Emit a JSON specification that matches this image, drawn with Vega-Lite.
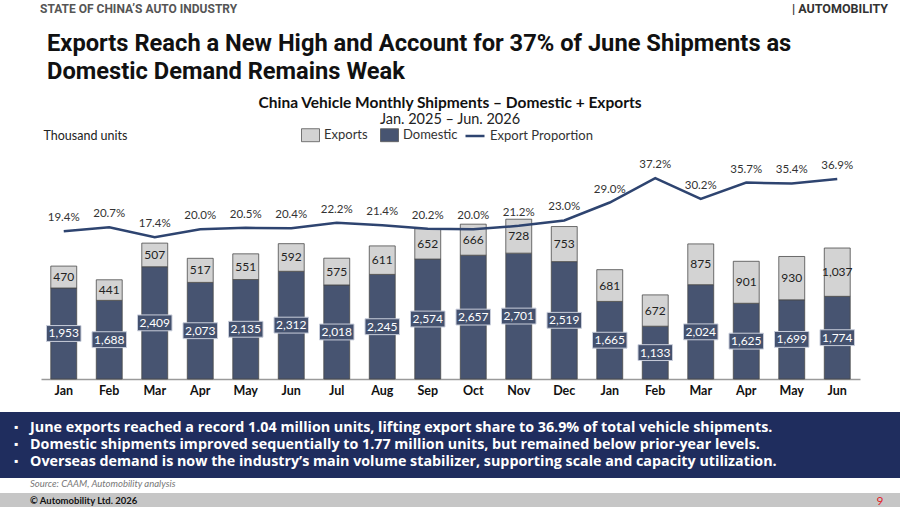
{
  "$schema": "https://vega.github.io/schema/vega-lite/v6.json",
  "padding": 0,
  "background": "white",
  "spacing": 0,
  "config": {"view": {"stroke": null}, "font": "Lato", "concat": {"spacing": 0}},
  "datasets": {
    "shipments": [
      {"date": "2025-01-01", "Domestic": 1953, "Exports": 470, "share": 0.194},
      {"date": "2025-02-01", "Domestic": 1688, "Exports": 441, "share": 0.207},
      {"date": "2025-03-01", "Domestic": 2409, "Exports": 507, "share": 0.174},
      {"date": "2025-04-01", "Domestic": 2073, "Exports": 517, "share": 0.200},
      {"date": "2025-05-01", "Domestic": 2135, "Exports": 551, "share": 0.205},
      {"date": "2025-06-01", "Domestic": 2312, "Exports": 592, "share": 0.204},
      {"date": "2025-07-01", "Domestic": 2018, "Exports": 575, "share": 0.222},
      {"date": "2025-08-01", "Domestic": 2245, "Exports": 611, "share": 0.214},
      {"date": "2025-09-01", "Domestic": 2574, "Exports": 652, "share": 0.202},
      {"date": "2025-10-01", "Domestic": 2657, "Exports": 666, "share": 0.200},
      {"date": "2025-11-01", "Domestic": 2701, "Exports": 728, "share": 0.212},
      {"date": "2025-12-01", "Domestic": 2519, "Exports": 753, "share": 0.230},
      {"date": "2026-01-01", "Domestic": 1665, "Exports": 681, "share": 0.290},
      {"date": "2026-02-01", "Domestic": 1133, "Exports": 672, "share": 0.372},
      {"date": "2026-03-01", "Domestic": 2024, "Exports": 875, "share": 0.302},
      {"date": "2026-04-01", "Domestic": 1625, "Exports": 901, "share": 0.357},
      {"date": "2026-05-01", "Domestic": 1699, "Exports": 930, "share": 0.354},
      {"date": "2026-06-01", "Domestic": 1774, "Exports": 1037, "share": 0.369}
    ],
    "bullets": [
      {"line": 1, "pos": 0, "text": "June exports reached a record 1.04 million units, lifting export share to 36.9% of total vehicle shipments."},
      {"line": 2, "pos": 0, "text": "Domestic shipments improved sequentially to 1.77 million units, but remained below prior-year levels."},
      {"line": 3, "pos": 0, "text": "Overseas demand is now the industry’s main volume stabilizer, supporting scale and capacity utilization."}
    ]
  },
  "vconcat": [
    {
      "width": 900,
      "height": 20,
      "layer": [
        {
          "data": {"values": [{"pos": 0, "label": "STATE OF CHINA’S AUTO INDUSTRY"}]},
          "mark": {"type": "text", "align": "left", "baseline": "middle", "fontSize": 12, "fontWeight": "bold", "color": "#555555", "dy": -1, "font": "Roboto"},
          "encoding": {
            "x": {"field": "pos", "type": "quantitative", "scale": {"domain": [0, 1], "range": [40, 868]},
                  "axis": {"orient": "bottom", "domainColor": "#d9262c", "domainWidth": 2, "ticks": false, "labels": false, "grid": false, "title": null}},
            "text": {"field": "label"}
          }
        },
        {
          "data": {"values": [{"pos": 1, "label": "|      AUTOMOBILITY"}]},
          "mark": {"type": "text", "align": "right", "baseline": "middle", "fontSize": 12.5, "fontWeight": "bold", "color": "#333333", "dy": -1, "dx": 20, "font": "Roboto"},
          "encoding": {
            "x": {"field": "pos", "type": "quantitative", "scale": {"domain": [0, 1], "range": [40, 868]}, "axis": null},
            "text": {"field": "label"}
          }
        }
      ]
    },
    {
      "width": 900,
      "height": 76,
      "data": {"values": [
        {"line": 1, "pos": 0, "text": "Exports Reach a New High and Account for 37% of June Shipments as"},
        {"line": 2, "pos": 0, "text": "Domestic Demand Remains Weak"}
      ]},
      "mark": {"type": "text", "align": "left", "baseline": "middle", "font": "Roboto", "fontSize": 23.7, "fontWeight": "bold", "color": "#111111"},
      "encoding": {
        "x": {"field": "pos", "type": "quantitative", "scale": {"domain": [0, 1], "range": [47, 868]}, "axis": null},
        "y": {"field": "line", "type": "ordinal", "scale": {"type": "point", "padding": 0.857}, "axis": null},
        "text": {"field": "text"}
      }
    },
    {
      "width": 900,
      "height": 217,
      "title": {
        "text": "China Vehicle Monthly Shipments – Domestic + Exports",
        "subtitle": "Jan. 2025 – Jun. 2026",
        "anchor": "middle",
        "frame": "group",
        "fontSize": 15.5,
        "fontWeight": "bold",
        "color": "#111111",
        "subtitleFontSize": 14.5,
        "subtitleColor": "#222222",
        "subtitlePadding": 1,
        "offset": 3
      },
      "data": {"name": "shipments"},
      "layer": [
        {
          "layer": [
            {
              "transform": [{"fold": ["Domestic", "Exports"], "as": ["series", "value"]}],
              "mark": {"type": "bar", "stroke": "#4a4a4a", "strokeWidth": 0.8},
              "encoding": {
                "x": {"field": "date", "timeUnit": "utcyearmonth", "type": "ordinal",
                      "scale": {"range": [41, 860], "paddingInner": 0.43, "paddingOuter": 0.215},
                      "axis": {"title": null, "labelExpr": "utcFormat(datum.value, '%b')", "labelFontWeight": "bold", "labelFontSize": 12.5, "labelColor": "#111111", "labelAngle": 0, "ticks": false, "domainColor": "#9a9a9a", "domainWidth": 1.5, "labelPadding": 5, "minExtent": 33}},
                "y": {"field": "value", "type": "quantitative", "stack": "zero", "scale": {"domain": [0, 4657]},
                      "axis": {"orient": "left", "domain": false, "ticks": false, "labels": false, "grid": false, "minExtent": 0,
                               "title": "Thousand units", "titleAngle": 0, "titleAlign": "left", "titleBaseline": "middle", "titleX": 43, "titleY": -27,
                               "titleFontWeight": "normal", "titleFontSize": 12.5, "titleColor": "#222222"}},
                "order": {"field": "series", "sort": "ascending"},
                "color": {"field": "series", "type": "nominal",
                          "scale": {"domain": ["Exports", "Domestic"], "range": ["#d3d3d3", "#475471"]},
                          "legend": {"title": null, "orient": "none", "legendX": 301, "legendY": 125.5, "direction": "horizontal",
                                     "symbolType": "M-1,-0.72H1V0.72H-1Z", "symbolSize": 324, "symbolStrokeColor": "#555555", "symbolStrokeWidth": 0.8,
                                     "labelFontSize": 13, "labelColor": "#333333", "columnPadding": 10, "labelOffset": 4}}
              }
            },
            {
              "transform": [
                {"fold": ["Domestic", "Exports"], "as": ["series", "value"]},
                {"stack": "value", "groupby": ["date"], "sort": [{"field": "series", "order": "ascending"}], "as": ["v0", "v1"]},
                {"fold": ["v0", "v1"], "as": ["edge", "edgeval"]},
                {"aggregate": [{"op": "mean", "field": "edgeval", "as": "mid"}], "groupby": ["date", "series", "value"]}
              ],
              "layer": [
                {
                  "transform": [{"filter": "datum.series === 'Domestic'"}],
                  "mark": {"type": "point", "shape": "M-1,-0.46H1V0.46H-1Z", "size": 1190, "filled": true, "fill": "#44516e", "stroke": "#c9cedb", "strokeWidth": 1, "opacity": 1},
                  "encoding": {
                    "x": {"field": "date", "timeUnit": "utcyearmonth", "type": "ordinal"},
                    "y": {"field": "mid", "type": "quantitative", "scale": {"domain": [0, 4657]}}
                  }
                },
                {
                  "mark": {"type": "text", "fontSize": 12, "baseline": "middle"},
                  "encoding": {
                    "x": {"field": "date", "timeUnit": "utcyearmonth", "type": "ordinal"},
                    "y": {"field": "mid", "type": "quantitative", "scale": {"domain": [0, 4657]}},
                    "text": {"field": "value", "type": "quantitative", "format": ","},
                    "color": {"condition": {"test": "datum.series === 'Domestic'", "value": "#ffffff"}, "value": "#222222"}
                  }
                }
              ]
            }
          ]
        },
        {
          "layer": [
            {
              "mark": {"type": "line", "strokeWidth": 2.5},
              "encoding": {
                "x": {"field": "date", "timeUnit": "utcyearmonth", "type": "ordinal"},
                "y": {"field": "share", "type": "quantitative", "scale": {"domain": [-0.302, 0.426]}, "axis": null},
                "stroke": {"datum": "Export Proportion", "type": "nominal",
                           "scale": {"domain": ["Export Proportion"], "range": ["#2e4470"]},
                           "legend": {"title": null, "orient": "none", "legendX": 464, "legendY": 125, "symbolType": "stroke",
                                      "symbolSize": 361, "symbolStrokeWidth": 2.5, "labelFontSize": 13, "labelColor": "#333333", "labelOffset": 4}}
              }
            },
            {
              "mark": {"type": "text", "fontSize": 11.5, "color": "#333333", "dy": -13, "baseline": "middle"},
              "encoding": {
                "x": {"field": "date", "timeUnit": "utcyearmonth", "type": "ordinal"},
                "y": {"field": "share", "type": "quantitative", "scale": {"domain": [-0.302, 0.426]}, "axis": null},
                "text": {"field": "share", "type": "quantitative", "format": ".1%"}
              }
            }
          ]
        }
      ],
      "resolve": {"scale": {"y": "independent"}}
    },
    {
      "width": 900,
      "height": 66,
      "view": {"fill": "#1f2d5e", "stroke": null},
      "data": {"name": "bullets"},
      "layer": [
        {
          "mark": {"type": "text", "align": "center", "baseline": "middle", "fontSize": 11, "color": "#ffffff", "dx": -14},
          "encoding": {
            "x": {"field": "pos", "type": "quantitative", "scale": {"domain": [0, 1], "range": [30, 890]}, "axis": null},
            "y": {"field": "line", "type": "ordinal", "scale": {"type": "point", "padding": 0.9}, "axis": null},
            "text": {"value": "▪"}
          }
        },
        {
          "mark": {"type": "text", "align": "left", "baseline": "middle", "fontSize": 14.3, "fontWeight": "bold", "color": "#ffffff", "font": "Open Sans"},
          "encoding": {
            "x": {"field": "pos", "type": "quantitative", "scale": {"domain": [0, 1], "range": [30, 890]}, "axis": null},
            "y": {"field": "line", "type": "ordinal", "scale": {"type": "point", "padding": 0.9}, "axis": null},
            "text": {"field": "text"}
          }
        }
      ]
    },
    {
      "width": 900,
      "height": 15,
      "view": {"fill": "#c6c6c6", "stroke": null},
      "title": {"text": "Source: CAAM, Automobility analysis", "anchor": "start", "frame": "group", "fontSize": 9.5, "fontStyle": "italic", "fontWeight": "normal", "color": "#777777", "offset": 5, "dx": 30},
      "data": {"values": [{"pos": 0, "label": "© Automobility Ltd. 2026"}]},
      "layer": [
        {
          "mark": {"type": "text", "align": "left", "baseline": "middle", "fontSize": 9.5, "fontWeight": "bold", "color": "#111111"},
          "encoding": {
            "x": {"field": "pos", "type": "quantitative", "scale": {"domain": [0, 1], "range": [30, 880]}, "axis": null},
            "text": {"field": "label"}
          }
        },
        {
          "data": {"values": [{"pos": 1, "label": "9"}]},
          "mark": {"type": "text", "align": "center", "baseline": "middle", "fontSize": 12, "color": "#e0262c"},
          "encoding": {
            "x": {"field": "pos", "type": "quantitative", "scale": {"domain": [0, 1], "range": [30, 880]}, "axis": null},
            "text": {"field": "label"}
          }
        }
      ]
    }
  ]
}
